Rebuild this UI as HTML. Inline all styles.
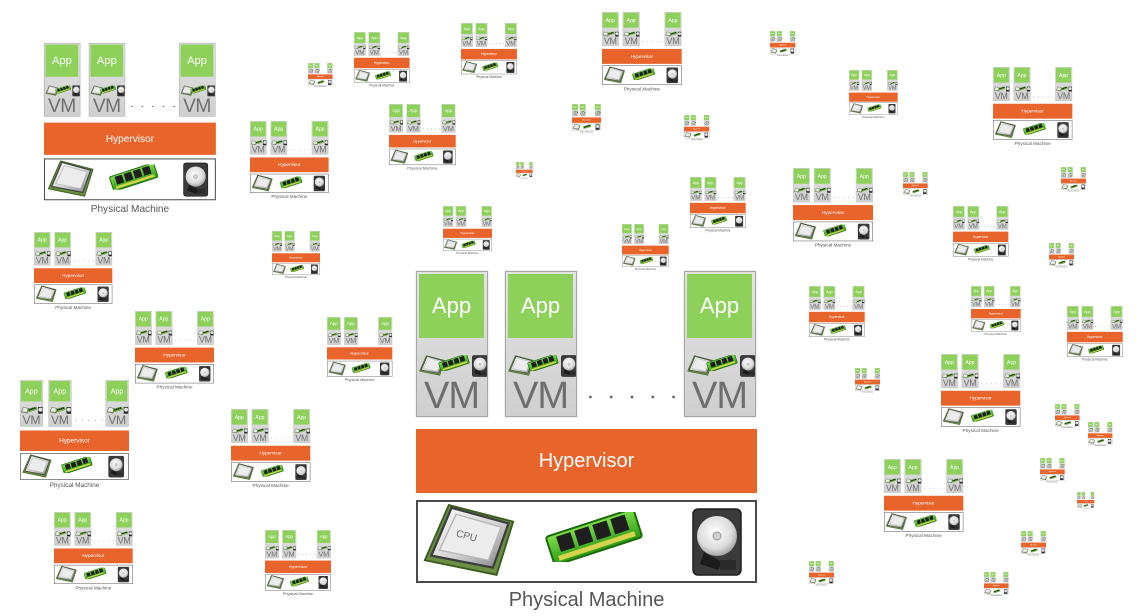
<!DOCTYPE html>
<html><head><meta charset="utf-8"><style>
body{margin:0;width:1136px;height:612px;overflow:hidden;background:#fff;position:relative;font-family:"Liberation Sans",sans-serif}
.d{position:absolute;width:341px;height:345px;transform-origin:0 0}
.v{position:absolute;top:0;width:72px;height:146px;box-sizing:border-box;border:1.5px solid #a6a6a6;background:linear-gradient(#e3e3e3,#cfcfcf);box-shadow:0 0 2px rgba(0,0,0,.2)}
.v1{left:0}.v2{left:89px}.v3{left:268px}
.a{position:absolute;left:2px;top:2px;width:65px;height:64px;background:#8dd15a;color:#fff;font-size:22px;line-height:64px;text-align:center}
.v svg{position:absolute;left:2px;top:82px;width:68px;height:24px}
.t{position:absolute;left:0;width:69px;top:104px;text-align:center;font-size:38px;line-height:40px;color:#6e6e6e;letter-spacing:-1px}
.dt{position:absolute;left:164px;top:124px;width:104px;height:4px;background:radial-gradient(circle,#666 1.2px,transparent 1.6px) 0 0/20.8px 4px}
.h{position:absolute;left:0;top:158px;width:341px;height:64px;background:#e8642b;color:#fff;font-size:20px;line-height:64px;text-align:center}
.p{position:absolute;left:0;top:229px;width:341px;height:83px;box-sizing:border-box;border:2.5px solid #4a4a4a;background:#fff}
.p svg{position:absolute;left:-2.5px;top:-2.5px;width:341px;height:83px}
.l{position:absolute;left:0;top:316px;width:341px;text-align:center;font-size:20px;color:#555;line-height:26px;white-space:nowrap}
</style></head><body>
<svg width="0" height="0" style="position:absolute">
<defs>
<linearGradient id="gs" x1="0" y1="0" x2="1" y2="1"><stop offset="0" stop-color="#fdfdfd"/><stop offset=".55" stop-color="#d4d4d4"/><stop offset="1" stop-color="#7d7d7d"/></linearGradient>
<radialGradient id="gd" cx=".45" cy=".4" r=".6"><stop offset="0" stop-color="#ffffff"/><stop offset=".7" stop-color="#dcdcdc"/><stop offset="1" stop-color="#a5a5a5"/></radialGradient>
<linearGradient id="gg" x1="0" y1="0" x2="0" y2="1"><stop offset="0" stop-color="#7fe04a"/><stop offset="1" stop-color="#2a9a14"/></linearGradient>
<symbol id="cpu" viewBox="0 0 100 80">
<polygon points="28,2 98,20 80,78 2,62" fill="#6a8f42" stroke="#3a5a20" stroke-width="2"/>
<polygon points="31,5 93,22 76,70 9,57" fill="url(#gs)" stroke="#3e3e3e" stroke-width="2.5"/>
<polygon points="36,12 85,26 71,62 18,51" fill="#ececec" stroke="#b5b5b5" stroke-width="1.5"/>
</symbol>
<symbol id="ram" viewBox="0 0 100 50">
<g transform="rotate(-18 50 25)">
<rect x="4" y="10" width="92" height="30" rx="3" fill="url(#gg)" stroke="#1d6a0c" stroke-width="2"/>
<rect x="14" y="13" width="15" height="16" fill="#1e1e1e"/><rect x="33" y="13" width="15" height="16" fill="#1e1e1e"/><rect x="52" y="13" width="15" height="16" fill="#1e1e1e"/><rect x="71" y="13" width="15" height="16" fill="#1e1e1e"/>
<rect x="10" y="32" width="80" height="5" fill="#d8d34c"/>
</g>
</symbol>
<symbol id="hdd" viewBox="0 0 50 68">
<rect x="1" y="1" width="48" height="66" rx="5" fill="#3a3a3a" stroke="#1e1e1e" stroke-width="1.5"/>
<circle cx="25" cy="28" r="20" fill="url(#gd)"/>
<circle cx="25" cy="28" r="4" fill="#d0d0d0" stroke="#999"/>
<polygon points="8,56 12,44 30,54 26,62" fill="#1c1c1c"/>
<rect x="28" y="52" width="16" height="10" fill="#2b2b2b"/>
</symbol>
<symbol id="pm" viewBox="0 0 341 83">
<use href="#cpu" x="7" y="3" width="92" height="74"/>
<use href="#ram" x="128" y="12" width="100" height="50"/>
<use href="#hdd" x="276" y="8" width="50" height="68"/>
</symbol>
<symbol id="vi" viewBox="0 0 68 24">
<use href="#cpu" x="0" y="1" width="26" height="21"/>
<use href="#ram" x="19" y="1" width="32" height="16"/>
<use href="#hdd" x="53" y="1" width="16" height="22"/>
</symbol>
</defs></svg>

<div class="d" style="left:44px;top:42.5px;transform:scale(.504)"><div class="v v1"><div class="a">App</div><svg><use href="#vi"/></svg><div class="t">VM</div></div><div class="v v2"><div class="a">App</div><svg><use href="#vi"/></svg><div class="t">VM</div></div><div class="dt"></div><div class="v v3"><div class="a">App</div><svg><use href="#vi"/></svg><div class="t">VM</div></div><div class="h">Hypervisor</div><div class="p"><svg><use href="#pm"/></svg></div><div class="l">Physical Machine</div></div>

<div class="d" style="left:249.7px;top:120.7px;transform:scale(.2305)"><div class="v v1"><div class="a">App</div><svg><use href="#vi"/></svg><div class="t">VM</div></div><div class="v v2"><div class="a">App</div><svg><use href="#vi"/></svg><div class="t">VM</div></div><div class="dt"></div><div class="v v3"><div class="a">App</div><svg><use href="#vi"/></svg><div class="t">VM</div></div><div class="h">Hypervisor</div><div class="p"><svg><use href="#pm"/></svg></div><div class="l">Physical Machine</div></div>

<div class="d" style="left:307.7px;top:62.7px;transform:scale(.072)"><div class="v v1"><div class="a">App</div><svg><use href="#vi"/></svg><div class="t">VM</div></div><div class="v v2"><div class="a">App</div><svg><use href="#vi"/></svg><div class="t">VM</div></div><div class="dt"></div><div class="v v3"><div class="a">App</div><svg><use href="#vi"/></svg><div class="t">VM</div></div><div class="h">Hypervisor</div><div class="p"><svg><use href="#pm"/></svg></div><div class="l">Physical Machine</div></div>

<div class="d" style="left:353.7px;top:32.3px;transform:scale(.163)"><div class="v v1"><div class="a">App</div><svg><use href="#vi"/></svg><div class="t">VM</div></div><div class="v v2"><div class="a">App</div><svg><use href="#vi"/></svg><div class="t">VM</div></div><div class="dt"></div><div class="v v3"><div class="a">App</div><svg><use href="#vi"/></svg><div class="t">VM</div></div><div class="h">Hypervisor</div><div class="p"><svg><use href="#pm"/></svg></div><div class="l">Physical Machine</div></div>

<div class="d" style="left:460.7px;top:23px;transform:scale(.164)"><div class="v v1"><div class="a">App</div><svg><use href="#vi"/></svg><div class="t">VM</div></div><div class="v v2"><div class="a">App</div><svg><use href="#vi"/></svg><div class="t">VM</div></div><div class="dt"></div><div class="v v3"><div class="a">App</div><svg><use href="#vi"/></svg><div class="t">VM</div></div><div class="h">Hypervisor</div><div class="p"><svg><use href="#pm"/></svg></div><div class="l">Physical Machine</div></div>

<div class="d" style="left:388.7px;top:104.3px;transform:scale(.1956)"><div class="v v1"><div class="a">App</div><svg><use href="#vi"/></svg><div class="t">VM</div></div><div class="v v2"><div class="a">App</div><svg><use href="#vi"/></svg><div class="t">VM</div></div><div class="dt"></div><div class="v v3"><div class="a">App</div><svg><use href="#vi"/></svg><div class="t">VM</div></div><div class="h">Hypervisor</div><div class="p"><svg><use href="#pm"/></svg></div><div class="l">Physical Machine</div></div>

<div class="d" style="left:571.7px;top:104.3px;transform:scale(.085)"><div class="v v1"><div class="a">App</div><svg><use href="#vi"/></svg><div class="t">VM</div></div><div class="v v2"><div class="a">App</div><svg><use href="#vi"/></svg><div class="t">VM</div></div><div class="dt"></div><div class="v v3"><div class="a">App</div><svg><use href="#vi"/></svg><div class="t">VM</div></div><div class="h">Hypervisor</div><div class="p"><svg><use href="#pm"/></svg></div><div class="l">Physical Machine</div></div>

<div class="d" style="left:602px;top:11.7px;transform:scale(.2337)"><div class="v v1"><div class="a">App</div><svg><use href="#vi"/></svg><div class="t">VM</div></div><div class="v v2"><div class="a">App</div><svg><use href="#vi"/></svg><div class="t">VM</div></div><div class="dt"></div><div class="v v3"><div class="a">App</div><svg><use href="#vi"/></svg><div class="t">VM</div></div><div class="h">Hypervisor</div><div class="p"><svg><use href="#pm"/></svg></div><div class="l">Physical Machine</div></div>

<div class="d" style="left:684px;top:115px;transform:scale(.0742)"><div class="v v1"><div class="a">App</div><svg><use href="#vi"/></svg><div class="t">VM</div></div><div class="v v2"><div class="a">App</div><svg><use href="#vi"/></svg><div class="t">VM</div></div><div class="dt"></div><div class="v v3"><div class="a">App</div><svg><use href="#vi"/></svg><div class="t">VM</div></div><div class="h">Hypervisor</div><div class="p"><svg><use href="#pm"/></svg></div><div class="l">Physical Machine</div></div>

<div class="d" style="left:770px;top:30.7px;transform:scale(.0742)"><div class="v v1"><div class="a">App</div><svg><use href="#vi"/></svg><div class="t">VM</div></div><div class="v v2"><div class="a">App</div><svg><use href="#vi"/></svg><div class="t">VM</div></div><div class="dt"></div><div class="v v3"><div class="a">App</div><svg><use href="#vi"/></svg><div class="t">VM</div></div><div class="h">Hypervisor</div><div class="p"><svg><use href="#pm"/></svg></div><div class="l">Physical Machine</div></div>

<div class="d" style="left:849.3px;top:70px;transform:scale(.1428)"><div class="v v1"><div class="a">App</div><svg><use href="#vi"/></svg><div class="t">VM</div></div><div class="v v2"><div class="a">App</div><svg><use href="#vi"/></svg><div class="t">VM</div></div><div class="dt"></div><div class="v v3"><div class="a">App</div><svg><use href="#vi"/></svg><div class="t">VM</div></div><div class="h">Hypervisor</div><div class="p"><svg><use href="#pm"/></svg></div><div class="l">Physical Machine</div></div>

<div class="d" style="left:993.3px;top:66.7px;transform:scale(.2326)"><div class="v v1"><div class="a">App</div><svg><use href="#vi"/></svg><div class="t">VM</div></div><div class="v v2"><div class="a">App</div><svg><use href="#vi"/></svg><div class="t">VM</div></div><div class="dt"></div><div class="v v3"><div class="a">App</div><svg><use href="#vi"/></svg><div class="t">VM</div></div><div class="h">Hypervisor</div><div class="p"><svg><use href="#pm"/></svg></div><div class="l">Physical Machine</div></div>

<div class="d" style="left:516px;top:161.7px;transform:scale(.049)"><div class="v v1"><div class="a">App</div><svg><use href="#vi"/></svg><div class="t">VM</div></div><div class="v v2"><div class="a">App</div><svg><use href="#vi"/></svg><div class="t">VM</div></div><div class="dt"></div><div class="v v3"><div class="a">App</div><svg><use href="#vi"/></svg><div class="t">VM</div></div><div class="h">Hypervisor</div><div class="p"><svg><use href="#pm"/></svg></div><div class="l">Physical Machine</div></div>

<div class="d" style="left:689.7px;top:177.3px;transform:scale(.1633)"><div class="v v1"><div class="a">App</div><svg><use href="#vi"/></svg><div class="t">VM</div></div><div class="v v2"><div class="a">App</div><svg><use href="#vi"/></svg><div class="t">VM</div></div><div class="dt"></div><div class="v v3"><div class="a">App</div><svg><use href="#vi"/></svg><div class="t">VM</div></div><div class="h">Hypervisor</div><div class="p"><svg><use href="#pm"/></svg></div><div class="l">Physical Machine</div></div>

<div class="d" style="left:793.3px;top:167.7px;transform:scale(.2346)"><div class="v v1"><div class="a">App</div><svg><use href="#vi"/></svg><div class="t">VM</div></div><div class="v v2"><div class="a">App</div><svg><use href="#vi"/></svg><div class="t">VM</div></div><div class="dt"></div><div class="v v3"><div class="a">App</div><svg><use href="#vi"/></svg><div class="t">VM</div></div><div class="h">Hypervisor</div><div class="p"><svg><use href="#pm"/></svg></div><div class="l">Physical Machine</div></div>

<div class="d" style="left:903.3px;top:171.5px;transform:scale(.0724)"><div class="v v1"><div class="a">App</div><svg><use href="#vi"/></svg><div class="t">VM</div></div><div class="v v2"><div class="a">App</div><svg><use href="#vi"/></svg><div class="t">VM</div></div><div class="dt"></div><div class="v v3"><div class="a">App</div><svg><use href="#vi"/></svg><div class="t">VM</div></div><div class="h">Hypervisor</div><div class="p"><svg><use href="#pm"/></svg></div><div class="l">Physical Machine</div></div>

<div class="d" style="left:1060.7px;top:166.7px;transform:scale(.0733)"><div class="v v1"><div class="a">App</div><svg><use href="#vi"/></svg><div class="t">VM</div></div><div class="v v2"><div class="a">App</div><svg><use href="#vi"/></svg><div class="t">VM</div></div><div class="dt"></div><div class="v v3"><div class="a">App</div><svg><use href="#vi"/></svg><div class="t">VM</div></div><div class="h">Hypervisor</div><div class="p"><svg><use href="#pm"/></svg></div><div class="l">Physical Machine</div></div>

<div class="d" style="left:443px;top:205.7px;transform:scale(.1437)"><div class="v v1"><div class="a">App</div><svg><use href="#vi"/></svg><div class="t">VM</div></div><div class="v v2"><div class="a">App</div><svg><use href="#vi"/></svg><div class="t">VM</div></div><div class="dt"></div><div class="v v3"><div class="a">App</div><svg><use href="#vi"/></svg><div class="t">VM</div></div><div class="h">Hypervisor</div><div class="p"><svg><use href="#pm"/></svg></div><div class="l">Physical Machine</div></div>

<div class="d" style="left:271.5px;top:231.3px;transform:scale(.1408)"><div class="v v1"><div class="a">App</div><svg><use href="#vi"/></svg><div class="t">VM</div></div><div class="v v2"><div class="a">App</div><svg><use href="#vi"/></svg><div class="t">VM</div></div><div class="dt"></div><div class="v v3"><div class="a">App</div><svg><use href="#vi"/></svg><div class="t">VM</div></div><div class="h">Hypervisor</div><div class="p"><svg><use href="#pm"/></svg></div><div class="l">Physical Machine</div></div>

<div class="d" style="left:621.7px;top:224.3px;transform:scale(.137)"><div class="v v1"><div class="a">App</div><svg><use href="#vi"/></svg><div class="t">VM</div></div><div class="v v2"><div class="a">App</div><svg><use href="#vi"/></svg><div class="t">VM</div></div><div class="dt"></div><div class="v v3"><div class="a">App</div><svg><use href="#vi"/></svg><div class="t">VM</div></div><div class="h">Hypervisor</div><div class="p"><svg><use href="#pm"/></svg></div><div class="l">Physical Machine</div></div>

<div class="d" style="left:953px;top:205.5px;transform:scale(.1622)"><div class="v v1"><div class="a">App</div><svg><use href="#vi"/></svg><div class="t">VM</div></div><div class="v v2"><div class="a">App</div><svg><use href="#vi"/></svg><div class="t">VM</div></div><div class="dt"></div><div class="v v3"><div class="a">App</div><svg><use href="#vi"/></svg><div class="t">VM</div></div><div class="h">Hypervisor</div><div class="p"><svg><use href="#pm"/></svg></div><div class="l">Physical Machine</div></div>

<div class="d" style="left:33.7px;top:231.7px;transform:scale(.2296)"><div class="v v1"><div class="a">App</div><svg><use href="#vi"/></svg><div class="t">VM</div></div><div class="v v2"><div class="a">App</div><svg><use href="#vi"/></svg><div class="t">VM</div></div><div class="dt"></div><div class="v v3"><div class="a">App</div><svg><use href="#vi"/></svg><div class="t">VM</div></div><div class="h">Hypervisor</div><div class="p"><svg><use href="#pm"/></svg></div><div class="l">Physical Machine</div></div>

<div class="d" style="left:1049px;top:243.3px;transform:scale(.0733)"><div class="v v1"><div class="a">App</div><svg><use href="#vi"/></svg><div class="t">VM</div></div><div class="v v2"><div class="a">App</div><svg><use href="#vi"/></svg><div class="t">VM</div></div><div class="dt"></div><div class="v v3"><div class="a">App</div><svg><use href="#vi"/></svg><div class="t">VM</div></div><div class="h">Hypervisor</div><div class="p"><svg><use href="#pm"/></svg></div><div class="l">Physical Machine</div></div>

<div class="d" style="left:808.7px;top:285.5px;transform:scale(.1633)"><div class="v v1"><div class="a">App</div><svg><use href="#vi"/></svg><div class="t">VM</div></div><div class="v v2"><div class="a">App</div><svg><use href="#vi"/></svg><div class="t">VM</div></div><div class="dt"></div><div class="v v3"><div class="a">App</div><svg><use href="#vi"/></svg><div class="t">VM</div></div><div class="h">Hypervisor</div><div class="p"><svg><use href="#pm"/></svg></div><div class="l">Physical Machine</div></div>

<div class="d" style="left:971px;top:285.5px;transform:scale(.1457)"><div class="v v1"><div class="a">App</div><svg><use href="#vi"/></svg><div class="t">VM</div></div><div class="v v2"><div class="a">App</div><svg><use href="#vi"/></svg><div class="t">VM</div></div><div class="dt"></div><div class="v v3"><div class="a">App</div><svg><use href="#vi"/></svg><div class="t">VM</div></div><div class="h">Hypervisor</div><div class="p"><svg><use href="#pm"/></svg></div><div class="l">Physical Machine</div></div>

<div class="d" style="left:134.7px;top:310.7px;transform:scale(.2317)"><div class="v v1"><div class="a">App</div><svg><use href="#vi"/></svg><div class="t">VM</div></div><div class="v v2"><div class="a">App</div><svg><use href="#vi"/></svg><div class="t">VM</div></div><div class="dt"></div><div class="v v3"><div class="a">App</div><svg><use href="#vi"/></svg><div class="t">VM</div></div><div class="h">Hypervisor</div><div class="p"><svg><use href="#pm"/></svg></div><div class="l">Physical Machine</div></div>

<div class="d" style="left:327px;top:316.7px;transform:scale(.1915)"><div class="v v1"><div class="a">App</div><svg><use href="#vi"/></svg><div class="t">VM</div></div><div class="v v2"><div class="a">App</div><svg><use href="#vi"/></svg><div class="t">VM</div></div><div class="dt"></div><div class="v v3"><div class="a">App</div><svg><use href="#vi"/></svg><div class="t">VM</div></div><div class="h">Hypervisor</div><div class="p"><svg><use href="#pm"/></svg></div><div class="l">Physical Machine</div></div>

<div class="d" style="left:1067.3px;top:305.7px;transform:scale(.1633)"><div class="v v1"><div class="a">App</div><svg><use href="#vi"/></svg><div class="t">VM</div></div><div class="v v2"><div class="a">App</div><svg><use href="#vi"/></svg><div class="t">VM</div></div><div class="dt"></div><div class="v v3"><div class="a">App</div><svg><use href="#vi"/></svg><div class="t">VM</div></div><div class="h">Hypervisor</div><div class="p"><svg><use href="#pm"/></svg></div><div class="l">Physical Machine</div></div>

<div class="d" style="left:854.7px;top:367.7px;transform:scale(.0733)"><div class="v v1"><div class="a">App</div><svg><use href="#vi"/></svg><div class="t">VM</div></div><div class="v v2"><div class="a">App</div><svg><use href="#vi"/></svg><div class="t">VM</div></div><div class="dt"></div><div class="v v3"><div class="a">App</div><svg><use href="#vi"/></svg><div class="t">VM</div></div><div class="h">Hypervisor</div><div class="p"><svg><use href="#pm"/></svg></div><div class="l">Physical Machine</div></div>

<div class="d" style="left:940.7px;top:354.3px;transform:scale(.2326)"><div class="v v1"><div class="a">App</div><svg><use href="#vi"/></svg><div class="t">VM</div></div><div class="v v2"><div class="a">App</div><svg><use href="#vi"/></svg><div class="t">VM</div></div><div class="dt"></div><div class="v v3"><div class="a">App</div><svg><use href="#vi"/></svg><div class="t">VM</div></div><div class="h">Hypervisor</div><div class="p"><svg><use href="#pm"/></svg></div><div class="l">Physical Machine</div></div>

<div class="d" style="left:20.3px;top:380px;transform:scale(.3196)"><div class="v v1"><div class="a">App</div><svg><use href="#vi"/></svg><div class="t">VM</div></div><div class="v v2"><div class="a">App</div><svg><use href="#vi"/></svg><div class="t">VM</div></div><div class="dt"></div><div class="v v3"><div class="a">App</div><svg><use href="#vi"/></svg><div class="t">VM</div></div><div class="h">Hypervisor</div><div class="p"><svg><use href="#pm"/></svg></div><div class="l">Physical Machine</div></div>

<div class="d" style="left:230.7px;top:409px;transform:scale(.2326)"><div class="v v1"><div class="a">App</div><svg><use href="#vi"/></svg><div class="t">VM</div></div><div class="v v2"><div class="a">App</div><svg><use href="#vi"/></svg><div class="t">VM</div></div><div class="dt"></div><div class="v v3"><div class="a">App</div><svg><use href="#vi"/></svg><div class="t">VM</div></div><div class="h">Hypervisor</div><div class="p"><svg><use href="#pm"/></svg></div><div class="l">Physical Machine</div></div>

<div class="d" style="left:1054.7px;top:404.3px;transform:scale(.0721)"><div class="v v1"><div class="a">App</div><svg><use href="#vi"/></svg><div class="t">VM</div></div><div class="v v2"><div class="a">App</div><svg><use href="#vi"/></svg><div class="t">VM</div></div><div class="dt"></div><div class="v v3"><div class="a">App</div><svg><use href="#vi"/></svg><div class="t">VM</div></div><div class="h">Hypervisor</div><div class="p"><svg><use href="#pm"/></svg></div><div class="l">Physical Machine</div></div>

<div class="d" style="left:1088.3px;top:422px;transform:scale(.0716)"><div class="v v1"><div class="a">App</div><svg><use href="#vi"/></svg><div class="t">VM</div></div><div class="v v2"><div class="a">App</div><svg><use href="#vi"/></svg><div class="t">VM</div></div><div class="dt"></div><div class="v v3"><div class="a">App</div><svg><use href="#vi"/></svg><div class="t">VM</div></div><div class="h">Hypervisor</div><div class="p"><svg><use href="#pm"/></svg></div><div class="l">Physical Machine</div></div>

<div class="d" style="left:884.3px;top:459px;transform:scale(.2326)"><div class="v v1"><div class="a">App</div><svg><use href="#vi"/></svg><div class="t">VM</div></div><div class="v v2"><div class="a">App</div><svg><use href="#vi"/></svg><div class="t">VM</div></div><div class="dt"></div><div class="v v3"><div class="a">App</div><svg><use href="#vi"/></svg><div class="t">VM</div></div><div class="h">Hypervisor</div><div class="p"><svg><use href="#pm"/></svg></div><div class="l">Physical Machine</div></div>

<div class="d" style="left:1040px;top:458px;transform:scale(.0724)"><div class="v v1"><div class="a">App</div><svg><use href="#vi"/></svg><div class="t">VM</div></div><div class="v v2"><div class="a">App</div><svg><use href="#vi"/></svg><div class="t">VM</div></div><div class="dt"></div><div class="v v3"><div class="a">App</div><svg><use href="#vi"/></svg><div class="t">VM</div></div><div class="h">Hypervisor</div><div class="p"><svg><use href="#pm"/></svg></div><div class="l">Physical Machine</div></div>

<div class="d" style="left:1077px;top:491.7px;transform:scale(.0507)"><div class="v v1"><div class="a">App</div><svg><use href="#vi"/></svg><div class="t">VM</div></div><div class="v v2"><div class="a">App</div><svg><use href="#vi"/></svg><div class="t">VM</div></div><div class="dt"></div><div class="v v3"><div class="a">App</div><svg><use href="#vi"/></svg><div class="t">VM</div></div><div class="h">Hypervisor</div><div class="p"><svg><use href="#pm"/></svg></div><div class="l">Physical Machine</div></div>

<div class="d" style="left:54.3px;top:511.7px;transform:scale(.2308)"><div class="v v1"><div class="a">App</div><svg><use href="#vi"/></svg><div class="t">VM</div></div><div class="v v2"><div class="a">App</div><svg><use href="#vi"/></svg><div class="t">VM</div></div><div class="dt"></div><div class="v v3"><div class="a">App</div><svg><use href="#vi"/></svg><div class="t">VM</div></div><div class="h">Hypervisor</div><div class="p"><svg><use href="#pm"/></svg></div><div class="l">Physical Machine</div></div>

<div class="d" style="left:265px;top:530px;transform:scale(.1935)"><div class="v v1"><div class="a">App</div><svg><use href="#vi"/></svg><div class="t">VM</div></div><div class="v v2"><div class="a">App</div><svg><use href="#vi"/></svg><div class="t">VM</div></div><div class="dt"></div><div class="v v3"><div class="a">App</div><svg><use href="#vi"/></svg><div class="t">VM</div></div><div class="h">Hypervisor</div><div class="p"><svg><use href="#pm"/></svg></div><div class="l">Physical Machine</div></div>

<div class="d" style="left:1020.7px;top:530.7px;transform:scale(.0733)"><div class="v v1"><div class="a">App</div><svg><use href="#vi"/></svg><div class="t">VM</div></div><div class="v v2"><div class="a">App</div><svg><use href="#vi"/></svg><div class="t">VM</div></div><div class="dt"></div><div class="v v3"><div class="a">App</div><svg><use href="#vi"/></svg><div class="t">VM</div></div><div class="h">Hypervisor</div><div class="p"><svg><use href="#pm"/></svg></div><div class="l">Physical Machine</div></div>

<div class="d" style="left:808.7px;top:560.7px;transform:scale(.0733)"><div class="v v1"><div class="a">App</div><svg><use href="#vi"/></svg><div class="t">VM</div></div><div class="v v2"><div class="a">App</div><svg><use href="#vi"/></svg><div class="t">VM</div></div><div class="dt"></div><div class="v v3"><div class="a">App</div><svg><use href="#vi"/></svg><div class="t">VM</div></div><div class="h">Hypervisor</div><div class="p"><svg><use href="#pm"/></svg></div><div class="l">Physical Machine</div></div>

<div class="d" style="left:983.7px;top:571.7px;transform:scale(.0721)"><div class="v v1"><div class="a">App</div><svg><use href="#vi"/></svg><div class="t">VM</div></div><div class="v v2"><div class="a">App</div><svg><use href="#vi"/></svg><div class="t">VM</div></div><div class="dt"></div><div class="v v3"><div class="a">App</div><svg><use href="#vi"/></svg><div class="t">VM</div></div><div class="h">Hypervisor</div><div class="p"><svg><use href="#pm"/></svg></div><div class="l">Physical Machine</div></div>

<div class="d" style="left:416px;top:271px;transform:scale(1)"><div class="v v1"><div class="a">App</div><svg><use href="#vi"/></svg><div class="t">VM</div></div><div class="v v2"><div class="a">App</div><svg><use href="#vi"/></svg><div class="t">VM</div></div><div class="dt"></div><div class="v v3"><div class="a">App</div><svg><use href="#vi"/></svg><div class="t">VM</div></div><div class="h">Hypervisor</div><div class="p"><svg><use href="#pm"/><text x="40" y="39" font-family="Liberation Sans, sans-serif" font-size="10" fill="#6a6a6a" transform="rotate(15 50 36)">CPU</text></svg></div><div class="l">Physical Machine</div></div>

</body></html>
